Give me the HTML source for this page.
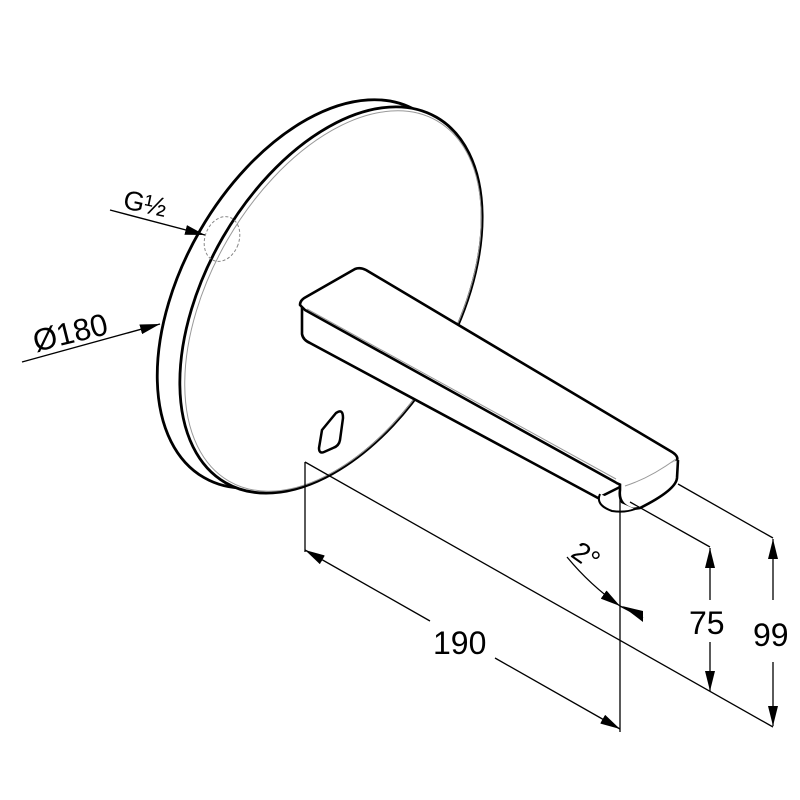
<!DOCTYPE html>
<html><head><style>html,body{margin:0;padding:0;background:#fff}svg{display:block}</style></head>
<body>
<svg width="800" height="800" viewBox="0 0 800 800" xmlns="http://www.w3.org/2000/svg" font-family="Liberation Sans, DejaVu Sans, sans-serif">
<defs>
<marker id="ar" viewBox="0 0 20 10" refX="20" refY="5" markerWidth="20" markerHeight="10" markerUnits="userSpaceOnUse" orient="auto">
<path d="M0,0 L20,5 L0,10 Z" fill="#000"/></marker>
</defs>
<g fill="none" stroke="#000">
<ellipse cx="310" cy="294" rx="127" ry="212" transform="rotate(30 310 294)" fill="#fff" stroke-width="2.8"/>
<ellipse cx="331" cy="300" rx="125" ry="211" transform="rotate(30 331 300)" fill="#fff" stroke-width="2.8"/>
<ellipse cx="333" cy="301" rx="122" ry="208" transform="rotate(30 333 301)" stroke="#999" stroke-width="1"/>
<ellipse cx="222" cy="239" rx="17" ry="23" transform="rotate(20 222 239)" stroke="#888" stroke-width="1" stroke-dasharray="3,2"/>
<path d="M322,430 L336,413 Q343,408 343,418 L340,440 Q339,446 333,448 L324,452 Q319,454 319,448 Z" stroke-width="2.5" fill="#fff"/>
<path d="M302,306 L302,334 Q303,340 310,343 L598,498 L620,487 L620,470 Z" fill="#fff" stroke-width="2.6" stroke-linejoin="round"/>
<path d="M300,305 Q300,300 306,297 L355,269 Q360,267 366,270 L672,452 Q680,457 676,462 L630,483 Q622,487 615,482 L305,310 Z" fill="#fff" stroke-width="2.6" stroke-linejoin="round"/>
<path d="M307,309 L616,479" stroke="#999" stroke-width="1"/>
<path d="M620,484 L620,490 Q618,505 633,509 L640,508 Q676,490 677,478 L678,460" fill="#fff" stroke-width="2.6"/>
<path d="M600,494 Q595,505 612,511 Q625,513 635,509" fill="#fff" stroke-width="2"/>
<path d="M625,486 Q650,478 676,459" stroke="#999" stroke-width="1"/>
<line x1="110" y1="210" x2="205" y2="235" stroke-width="1.4" marker-end="url(#ar)"/>
<line x1="22" y1="362" x2="160" y2="324" stroke-width="1.4" marker-end="url(#ar)"/>
<g stroke-width="1.3">
<line x1="305" y1="462" x2="305" y2="552"/>
<line x1="305" y1="462" x2="773" y2="727"/>
<line x1="620" y1="490" x2="620" y2="732"/>
<line x1="430" y1="621" x2="305" y2="550" marker-end="url(#ar)"/>
<line x1="495" y1="658" x2="620" y2="729" marker-end="url(#ar)"/>
<line x1="630" y1="502" x2="710" y2="547"/>
<line x1="710" y1="600" x2="710" y2="548" marker-end="url(#ar)"/>
<line x1="710" y1="642" x2="710" y2="691" marker-end="url(#ar)"/>
<line x1="678" y1="484" x2="773" y2="538"/>
<line x1="773" y1="600" x2="773" y2="539" marker-end="url(#ar)"/>
<line x1="773" y1="662" x2="773" y2="726" marker-end="url(#ar)"/>
<path d="M567,557 Q590,585 620,606" marker-end="url(#ar)"/>
<line x1="620" y1="606" x2="643" y2="618"/>
<path d="M622,606 L643,611 L643,622 Z" fill="#000" stroke="none"/>
</g>
</g>
<g fill="#000" font-size="32">
<text x="122" y="208" font-size="27" transform="rotate(12 122 208)">G½</text>
<text x="36" y="352" font-size="31" transform="rotate(-14 36 352)">Ø180</text>
<text x="433" y="654">190</text>
<text x="689" y="634">75</text>
<text x="753" y="646">99</text>
<text x="572" y="568" font-size="28" transform="rotate(35 590 558)">2°</text>
</g>
</svg>
</body></html>
